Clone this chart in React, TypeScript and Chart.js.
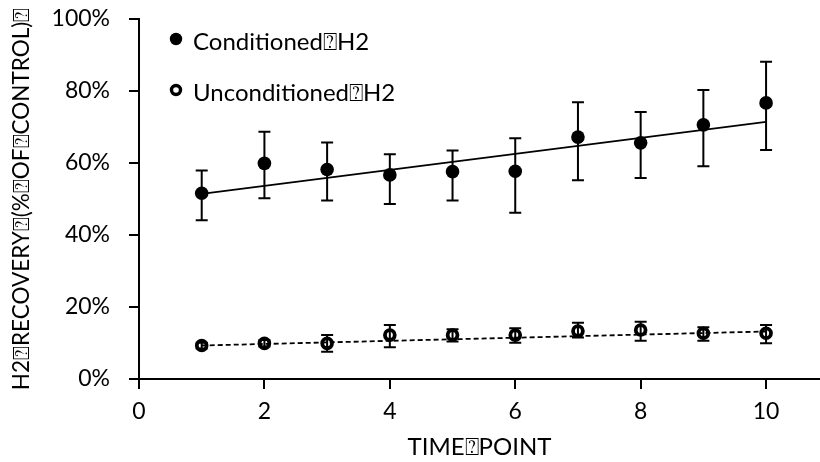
import React, { useEffect, useRef } from 'react';
import { Chart, registerables } from 'chart.js';

Chart.register(...registerables);

const Q = '\u2370';
const timePoints = [1, 2, 3, 4, 5, 6, 7, 8, 9, 10];
const condMean = [51.6, 59.9, 58.2, 56.7, 57.6, 57.7, 67.2, 65.6, 70.6, 76.7];
const condHigh = [57.9, 68.7, 65.7, 62.4, 63.5, 66.9, 76.9, 74.2, 80.3, 88.1];
const condLow = [44.1, 50.2, 49.6, 48.6, 49.6, 46.2, 55.2, 55.8, 59.1, 63.6];
const uncondMean = [9.3, 9.9, 9.9, 12.2, 12.2, 12.2, 13.3, 13.6, 12.7, 12.7];
const uncondHigh = [10.1, 10.8, 12.2, 15.0, 13.8, 14.1, 15.6, 15.9, 14.4, 15.0];
const uncondLow = [8.5, 9.0, 7.6, 8.8, 10.4, 10.1, 11.5, 10.6, 10.6, 9.9];
const trendX = [1, 10];
const condTrend = [51.4, 71.4];
const uncondTrend = [9.3, 13.2];
const seriesNames = [`Conditioned${Q}H2`, `Unconditioned${Q}H2`];
const yTitle = `H2${Q}RECOVERY${Q}(%${Q}OF${Q}CONTROL)${Q}`;
const xTitle = `TIME${Q}POINT`;
const xTicks = [0, 2, 4, 6, 8, 10];
const yTicks = [0, 20, 40, 60, 80, 100];

const TICK_FONT = { family: 'Lato', size: 23 };
const TITLE_FONT = { family: 'Lato', size: 22.5 };
const XTITLE_FONT = { family: 'Lato', size: 24 };
const LEGEND_SIZE = 24;

const errorBarPlugin = {
  id: 'errorBars',
  beforeDatasetsDraw(chart: any) {
    const { ctx } = chart;
    const x = chart.scales.x;
    const y = chart.scales.y;
    const sets = [
      [condLow, condHigh],
      [uncondLow, uncondHigh],
    ];
    ctx.save();
    ctx.strokeStyle = '#000';
    ctx.lineWidth = 2;
    sets.forEach(([lo, hi]) => {
      timePoints.forEach((t, i) => {
        const px = x.getPixelForValue(t);
        const pl = y.getPixelForValue(lo[i]);
        const ph = y.getPixelForValue(hi[i]);
        ctx.beginPath();
        ctx.moveTo(px, pl);
        ctx.lineTo(px, ph);
        ctx.moveTo(px - 6, pl);
        ctx.lineTo(px + 6, pl);
        ctx.moveTo(px - 6, ph);
        ctx.lineTo(px + 6, ph);
        ctx.stroke();
      });
    });
    ctx.restore();
  },
};

const legendPlugin = {
  id: 'customLegend',
  afterDraw(chart: any) {
    const { ctx } = chart;
    ctx.save();
    ctx.font = `${LEGEND_SIZE}px Lato`;
    ctx.fillStyle = '#000';
    ctx.textBaseline = 'alphabetic';
    ctx.textAlign = 'left';
    ctx.beginPath();
    ctx.arc(176, 39, 6.2, 0, Math.PI * 2);
    ctx.fill();
    ctx.fillText(seriesNames[0], 193, 49.5);
    ctx.beginPath();
    ctx.lineWidth = 3.4;
    ctx.strokeStyle = '#000';
    ctx.arc(176, 90, 4.5, 0, Math.PI * 2);
    ctx.stroke();
    ctx.fillText(seriesNames[1], 193, 100.5);
    ctx.restore();
  },
};

export default function App() {
  const ref = useRef<HTMLCanvasElement>(null);
  useEffect(() => {
    const chart = new Chart(ref.current as HTMLCanvasElement, {
      type: 'scatter',
      data: {
        datasets: [
          {
            label: seriesNames[0],
            data: timePoints.map((t, i) => ({ x: t, y: condMean[i] })),
            pointRadius: 6.8,
            pointBackgroundColor: '#000',
            pointBorderColor: '#000',
            pointBorderWidth: 0,
            showLine: false,
          },
          {
            label: seriesNames[1],
            data: timePoints.map((t, i) => ({ x: t, y: uncondMean[i] })),
            pointRadius: 4.9,
            pointBackgroundColor: 'rgba(0,0,0,0)',
            pointBorderColor: '#000',
            pointBorderWidth: 3.8,
            showLine: false,
          },
          {
            label: 'trend1',
            data: trendX.map((t, i) => ({ x: t, y: condTrend[i] })),
            showLine: true,
            borderColor: '#000',
            borderWidth: 1.8,
            pointRadius: 0,
          },
          {
            label: 'trend2',
            data: trendX.map((t, i) => ({ x: t, y: uncondTrend[i] })),
            showLine: true,
            borderColor: '#000',
            borderWidth: 1.8,
            borderDash: [5, 3],
            pointRadius: 0,
          },
        ],
      },
      options: {
        responsive: false,
        animation: false,
        devicePixelRatio: 1,
        layout: { autoPadding: false, padding: { top: 19, right: 0, left: 0, bottom: 0 } },
        plugins: {
          legend: { display: false },
          tooltip: { enabled: false },
        },
        scales: {
          x: {
            type: 'linear',
            position: 'bottom',
            min: 0,
            max: 10.86,
            afterBuildTicks: (s: any) => {
              s.ticks = xTicks.map((v) => ({ value: v }));
            },
            afterFit: (s: any) => {
              s.height = 83;
              s.paddingLeft = 0;
              s.paddingRight = 0;
            },
            ticks: {
              font: TICK_FONT,
              color: '#000',
              padding: 9,
              maxRotation: 0,
              autoSkip: false,
            },
            grid: {
              drawOnChartArea: false,
              tickLength: 10,
              color: '#000',
              lineWidth: 2,
            },
            border: { color: '#000', width: 2 },
            title: {
              display: true,
              text: xTitle,
              font: XTITLE_FONT,
              color: '#000',
              padding: { top: 0, bottom: 0 },
            },
          },
          y: {
            type: 'linear',
            min: 0,
            max: 100,
            afterBuildTicks: (s: any) => {
              s.ticks = yTicks.map((v) => ({ value: v }));
            },
            afterFit: (s: any) => {
              s.width = 139;
              s.paddingTop = 0;
              s.paddingBottom = 0;
            },
            ticks: {
              font: TICK_FONT,
              color: '#000',
              padding: 19,
              callback: (v: any) => `${v}%`,
            },
            grid: {
              drawOnChartArea: false,
              tickLength: 10,
              color: '#000',
              lineWidth: 2,
            },
            border: { color: '#000', width: 2 },
            title: {
              display: true,
              text: yTitle,
              font: TITLE_FONT,
              color: '#000',
              padding: { top: 8, bottom: 0 },
            },
          },
        },
      },
      plugins: [errorBarPlugin, legendPlugin],
    } as any);
    return () => chart.destroy();
  }, []);
  return (
    <div style={{ position: 'absolute', left: 0, top: 0, width: 820, height: 462 }}>
      <canvas ref={ref} width={820} height={462} style={{ width: 820, height: 462, display: 'block' }} />
    </div>
  );
}
